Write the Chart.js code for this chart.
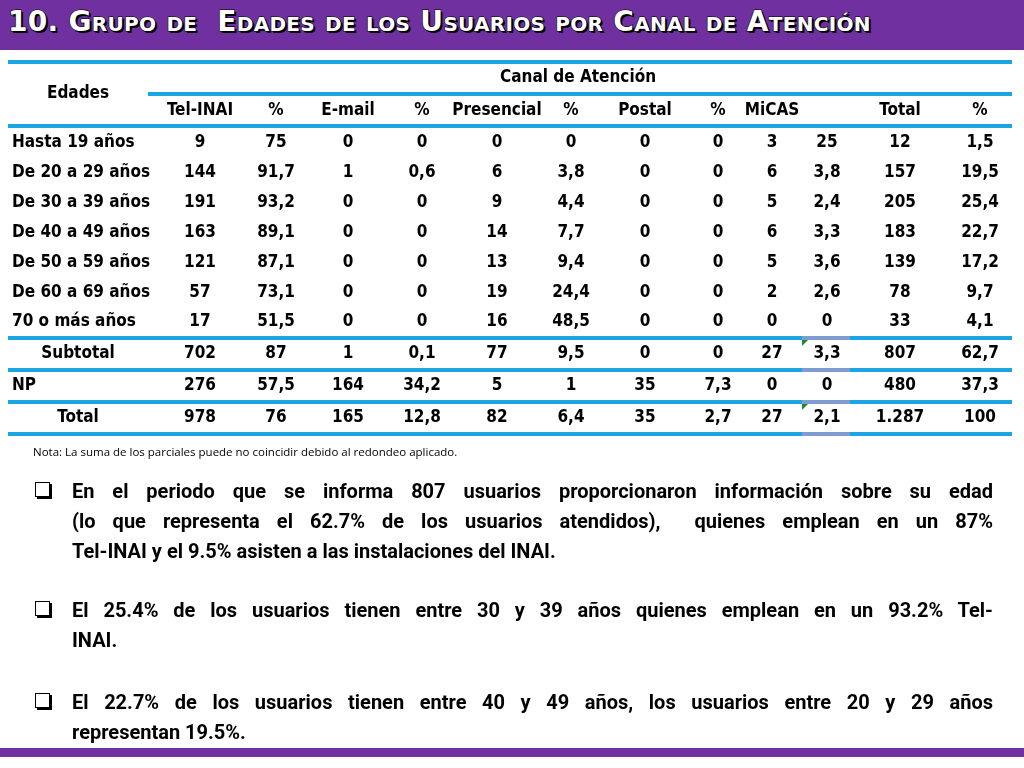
<!DOCTYPE html>
<html><head><meta charset="utf-8">
<script src="https://cdn.jsdelivr.net/npm/chart.js@4.4.0/dist/chart.umd.min.js"></script>
<style>
html,body{margin:0;padding:0;background:#fff;width:1024px;height:768px;overflow:hidden;font-family:Roboto,sans-serif}
#hdr{position:absolute;left:0;top:0;width:1024px;height:50px;background:#7030a0}
#title{position:absolute;left:8px;top:5px;font-family:"DejaVu Sans";font-weight:bold;font-size:28px;font-variant:small-caps;color:#fff;-webkit-text-stroke:1.2px #000;paint-order:stroke fill;text-shadow:2px 2px 0 #000;letter-spacing:0.3px;white-space:nowrap}
#foot{position:absolute;left:0;top:748px;width:1024px;height:9px;background:#7030a0}
#wrap{position:absolute;left:0;top:0;width:1024px;height:768px}
#note{position:absolute;left:33px;top:444px;font-family:"Open Sans";font-size:11.5px;color:#000}
.b{position:absolute;left:72px;width:921px;font-weight:bold;font-size:20px;line-height:30px;color:#000}
.b span{display:block;text-align:justify;text-align-last:justify}
.b span.l{text-align-last:left}
.bx{position:absolute;left:35px;width:13px;height:13px;border:1.5px solid #000;box-shadow:2px 2px 0 #000;background:#fff}
</style></head><body>
<div id="wrap"><canvas id="c" width="1024" height="768"></canvas></div>
<div id="hdr"><div id="title">10. Grupo de&nbsp; Edades de los Usuarios por Canal de Atención</div></div>
<div id="note">Nota: La suma de los parciales puede no coincidir debido al redondeo aplicado.</div>
<div class="bx" style="top:482px"></div>
<div class="b" style="top:476px"><span>En el periodo que se informa 807 usuarios proporcionaron información sobre su edad</span><span>(lo que representa el 62.7% de los usuarios atendidos),&nbsp; quienes emplean en un 87%</span><span class="l">Tel-INAI y el 9.5% asisten a las instalaciones del INAI.</span></div>
<div class="bx" style="top:601px"></div>
<div class="b" style="top:595px"><span>El 25.4% de los usuarios tienen entre 30 y 39 años quienes emplean en un 93.2% Tel-</span><span class="l">INAI.</span></div>
<div class="bx" style="top:693px"></div>
<div class="b" style="top:687px"><span>El 22.7% de los usuarios tienen entre 40 y 49 años, los usuarios entre 20 y 29 años</span><span class="l">representan 19.5%.</span></div>
<div id="foot"></div>
<script>
const columns = ["Tel-INAI","%","E-mail","%","Presencial","%","Postal","%","MiCAS","","Total","%"];
const groupHeader = "Canal de Atención";
const rowHeader = "Edades";
const rowLabels = ["Hasta 19 años","De 20 a 29 años","De 30 a 39 años","De 40 a 49 años","De 50 a 59 años","De 60 a 69 años","70 o más años","Subtotal","NP","Total"];
const telinai = ["9","144","191","163","121","57","17","702","276","978"];
const telinaiPct = ["75","91,7","93,2","89,1","87,1","73,1","51,5","87","57,5","76"];
const email = ["0","1","0","0","0","0","0","1","164","165"];
const emailPct = ["0","0,6","0","0","0","0","0","0,1","34,2","12,8"];
const presencial = ["0","6","9","14","13","19","16","77","5","82"];
const presencialPct = ["0","3,8","4,4","7,7","9,4","24,4","48,5","9,5","1","6,4"];
const postal = ["0","0","0","0","0","0","0","0","35","35"];
const postalPct = ["0","0","0","0","0","0","0","0","7,3","2,7"];
const micas = ["3","6","5","6","5","2","0","27","0","27"];
const micasPct = ["25","3,8","2,4","3,3","3,6","2,6","0","3,3","0","2,1"];
const total = ["12","157","205","183","139","78","33","807","480","1.287"];
const totalPct = ["1,5","19,5","25,4","22,7","17,2","9,7","4,1","62,7","37,3","100"];
const series = [telinai,telinaiPct,email,emailPct,presencial,presencialPct,postal,postalPct,micas,micasPct,total,totalPct];

const colX = [200,276,348,422,497,571,645,718,772,827,900,980];
const rowY = [143,173,203,233,263,293,322,354,386,418];

const tablePlugin = {
  id:'table',
  afterDraw(chart){
    const ctx=chart.ctx, X=chart.scales.x, Y=chart.scales.y;
    const px=v=>X.getPixelForValue(v), py=v=>Y.getPixelForValue(v);
    ctx.save();
    const blue='#19a6e2';
    function hl(x1,x2,y,col,w){ctx.fillStyle=col||blue;ctx.fillRect(px(x1),py(y)-(w||4)/2,px(x2)-px(x1),w||4);}
    hl(8,1012,62); hl(148,1012,94); hl(8,1012,126);
    [338,370,402,434].forEach(y=>{hl(8,1012,y); hl(802,850,y,'#7f9bd1');});
    ctx.fillStyle='#1e8a2e';
    [342,406].forEach(y=>{ctx.beginPath();ctx.moveTo(px(802),py(y-2));ctx.lineTo(px(808),py(y-2));ctx.lineTo(px(802),py(y+4));ctx.fill();});
    ctx.fillStyle='#000';
    ctx.font='bold 17px "DejaVu Sans Condensed","DejaVu Sans"';
    ctx.textBaseline='middle';ctx.textAlign='center';
    ctx.fillText(groupHeader,px(578),py(78));
    ctx.fillText(rowHeader,px(78),py(94));
    columns.forEach((c,i)=>{ if(c) ctx.fillText(c,px(colX[i]),py(111)); });
    rowLabels.forEach((r,j)=>{
      if(r==='Subtotal'||r==='Total'){ctx.textAlign='center';ctx.fillText(r,px(78),py(rowY[j]));}
      else {ctx.textAlign='left';ctx.fillText(r,px(12),py(rowY[j]));}
    });
    ctx.textAlign='center';
    series.forEach((s,i)=>s.forEach((v,j)=>ctx.fillText(v,px(colX[i]),py(rowY[j]))));
    ctx.restore();
  }
};
new Chart(document.getElementById('c'),{
  type:'scatter',
  data:{datasets:[{data:[]}]},
  options:{responsive:false,animation:false,layout:{padding:0},
    plugins:{legend:{display:false},tooltip:{enabled:false}},
    scales:{x:{type:'linear',min:0,max:1024,display:false},y:{type:'linear',min:0,max:768,reverse:true,display:false}}},
  plugins:[tablePlugin]
});
</script></body></html>
